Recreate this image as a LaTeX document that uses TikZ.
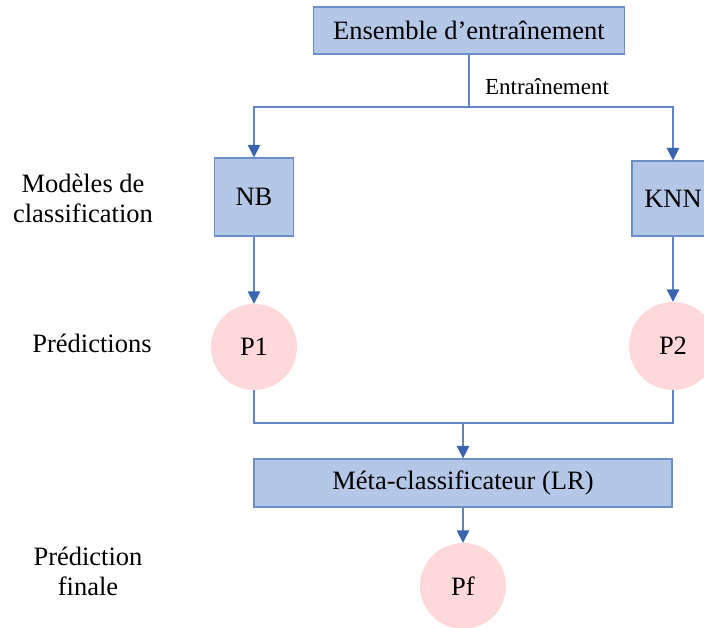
\documentclass[tikz,border=0pt]{standalone}
\usepackage{fontspec}
\setmainfont{Liberation Serif}
\usetikzlibrary{arrows.meta}
\definecolor{boxfill}{RGB}{180,199,231}
\definecolor{boxedge}{RGB}{108,142,201}
\definecolor{linkblue}{RGB}{98,132,196}
\definecolor{tipblue}{RGB}{58,100,176}
\definecolor{predfill}{RGB}{255,217,217}
\begin{document}
\begin{tikzpicture}[x=1pt,y=-1pt,
  every node/.style={font=\fontsize{26.5}{30}\selectfont, inner sep=0pt},
  stagebox/.style={draw=boxedge, line width=1.3pt, fill=boxfill},
  pred/.style={circle, fill=predfill, minimum size=86pt},
  sidelabel/.style={align=center},
  conn/.style={draw=linkblue, line width=1.5pt},
  tip/.style={-{Triangle[width=12.5pt,length=12.5pt,color=tipblue]}}]
\clip (0,0) rectangle (704,627);

% processing stages
\node[stagebox, minimum width=311pt, minimum height=47pt] (train) at (469,30.5) {Ensemble d’entraînement};
\node[stagebox, minimum width=79pt, minimum height=78pt] (nb) at (254,197) {NB};
\node[stagebox, minimum width=82pt, minimum height=75pt] (knn) at (673,198.5) {KNN};
\node[stagebox, minimum width=418pt, minimum height=48pt] (meta) at (463,483) {Méta-classificateur (LR)};

% predictions
\node[pred] (p1) at (254,347) {P1};
\node[pred, minimum size=88pt] (p2) at (673,346) {P2};
\node[pred] (pf) at (463,586) {Pf};

% row labels
\node[sidelabel] (lmod) at (83,198) {Modèles de\\classification};
\node[sidelabel] (lpred) at (92,343) {Prédictions};
\node[sidelabel] (lfin) at (88,571) {Prédiction\\finale};

% branch points
\coordinate (split) at (469,107);
\coordinate (join) at (463,423);
\node[font=\fontsize{23}{26}\selectfont] (ltrain) at (547,87) {Entraînement};

% connectors
\draw[conn] (train.south) -- (split);
\draw[conn, tip] (split) -| (nb.north);
\draw[conn, tip] (split) -| (knn.north);
\draw[conn, tip] (nb.south) -- (p1.north);
\draw[conn, tip] (knn.south) -- (p2.north);
\draw[conn] (p1.south) |- (join);
\draw[conn] (p2.south) |- (join);
\draw[conn, tip] (join) -- (meta.north);
\draw[conn, tip] (meta.south) -- (pf.north);
\end{tikzpicture}
\end{document}
